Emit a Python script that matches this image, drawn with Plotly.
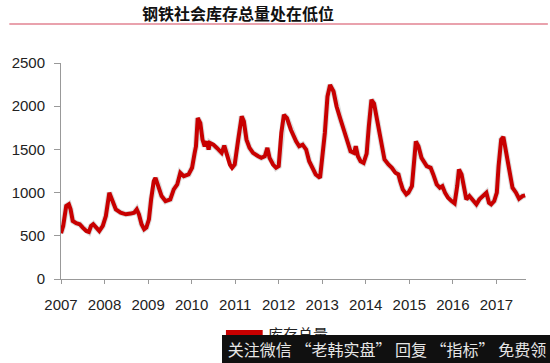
import plotly.graph_objects as go

title_text = "钢铁社会库存总量处在低位"
series_name = "库存总量"
watermark_text = "关注微信 “老韩实盘” 回复 “指标” 免费领"

year_ticks = list(range(2007, 2018))
year_labels = [str(y) for y in year_ticks]
y_ticks = [0, 500, 1000, 1500, 2000, 2500]

years = [
    2007.00, 2007.05, 2007.12, 2007.18, 2007.22, 2007.27, 2007.35, 2007.43, 2007.50, 2007.58, 2007.64, 2007.69, 2007.74, 2007.80, 2007.88, 2007.96,
    2008.03, 2008.11, 2008.18, 2008.26, 2008.37, 2008.49, 2008.60, 2008.68, 2008.74, 2008.79, 2008.85, 2008.91, 2008.96,
    2009.02, 2009.07, 2009.13, 2009.17, 2009.23, 2009.31, 2009.40, 2009.51, 2009.59, 2009.67, 2009.74, 2009.82, 2009.93,
    2010.01, 2010.07, 2010.10, 2010.14, 2010.20, 2010.25, 2010.30, 2010.35, 2010.39, 2010.42, 2010.50, 2010.58, 2010.65, 2010.69, 2010.75, 2010.80, 2010.88, 2010.93, 2010.99,
    2011.07, 2011.15, 2011.20, 2011.26, 2011.33, 2011.41, 2011.53, 2011.60, 2011.68, 2011.74, 2011.79, 2011.87, 2011.94,
    2012.00, 2012.06, 2012.12, 2012.19, 2012.28, 2012.40, 2012.47, 2012.55, 2012.63, 2012.70, 2012.78, 2012.85, 2012.95,
    2013.01, 2013.06, 2013.12, 2013.18, 2013.26, 2013.33, 2013.41, 2013.50, 2013.58, 2013.65, 2013.73, 2013.77, 2013.82, 2013.88, 2013.95,
    2014.02, 2014.07, 2014.13, 2014.19, 2014.26, 2014.32, 2014.37, 2014.43, 2014.52, 2014.60, 2014.68, 2014.75, 2014.79, 2014.85, 2014.93, 2014.98,
    2015.06, 2015.11, 2015.15, 2015.21, 2015.28, 2015.40, 2015.49, 2015.55, 2015.63, 2015.70, 2015.76, 2015.82, 2015.89, 2015.97,
    2016.04, 2016.10, 2016.14, 2016.20, 2016.25, 2016.31, 2016.38, 2016.46, 2016.54, 2016.61, 2016.69, 2016.77, 2016.83, 2016.88, 2016.95,
    2017.01, 2017.05, 2017.11, 2017.16, 2017.22, 2017.30, 2017.37, 2017.45, 2017.52, 2017.60, 2017.66,
]

inventory = [
    530, 614, 845, 864, 806, 672, 645, 634, 595, 556, 545, 614, 634, 595, 556, 614,
    729, 999, 902, 806, 768, 749, 757, 768, 806, 749, 634, 576, 595,
    691, 922, 1133, 1171, 1094, 960, 902, 922, 1037, 1094, 1229, 1190, 1210,
    1287, 1460, 1536, 1863, 1805, 1613, 1536, 1593, 1498, 1575, 1555, 1517, 1478, 1460, 1544, 1460, 1325, 1287, 1325,
    1613, 1882, 1824, 1613, 1517, 1460, 1421, 1402, 1421, 1517, 1402, 1325, 1287,
    1306, 1690, 1901, 1863, 1728, 1593, 1536, 1555, 1498, 1363, 1287, 1210, 1171,
    1421, 1690, 2112, 2247, 2170, 1997, 1863, 1728, 1613, 1478, 1460, 1536, 1421, 1363, 1344,
    1450, 1767, 2074, 2030, 1843, 1651, 1498, 1383, 1325, 1287, 1229, 1210, 1133, 1037, 979, 999,
    1075, 1344, 1593, 1536, 1402, 1306, 1287, 1210, 1094, 1056, 1075, 999, 941, 902,
    876, 1075, 1267, 1210, 1075, 922, 960, 902, 864, 922, 960, 999, 883, 864, 902,
    999, 1306, 1613, 1644, 1478, 1306, 1056, 999, 929, 960, 968,
]

RED = "#c80000"
NUM_FONT = "Liberation Sans, Arial, sans-serif"
CJK_FONT = "Noto Sans CJK SC, sans-serif"

fig = go.Figure()
# soft shadow under the line
fig.add_trace(go.Scatter(
    x=years, y=inventory, mode="lines",
    line=dict(color="rgba(60,60,60,0.18)", width=6),
    hoverinfo="skip", showlegend=False,
))
fig.add_trace(go.Scatter(
    x=years, y=inventory, mode="lines", name=series_name,
    line=dict(color=RED, width=4), showlegend=False,
))

fig.update_layout(
    width=550, height=363,
    margin=dict(l=58, r=24, t=63, b=84),
    paper_bgcolor="white", plot_bgcolor="white",
    showlegend=False,
    xaxis=dict(
        range=[2007, 2017.68], tickmode="array", tickvals=year_ticks, ticktext=year_labels,
        showgrid=False, zeroline=False, showline=True, linecolor="#999999", linewidth=1,
        ticks="outside", ticklen=4, tickcolor="#999999",
        tickfont=dict(family=NUM_FONT, size=15, color="#222222"),
        ticklabelstandoff=8,
    ),
    yaxis=dict(
        range=[0, 2500], tickmode="array", tickvals=y_ticks,
        showgrid=False, zeroline=False, showline=True, linecolor="#999999", linewidth=1,
        ticks="outside", ticklen=6, tickcolor="#999999",
        tickfont=dict(family=NUM_FONT, size=15, color="#222222"),
        ticklabelstandoff=6,
    ),
)

# header rule
fig.add_shape(type="line", xref="paper", yref="paper",
              x0=(6 - 58) / 468, x1=(548 - 58) / 468,
              y0=(363 - 84 - 24) / 216, y1=(363 - 84 - 24) / 216,
              line=dict(color="#e9a2ad", width=2))

# legend swatch (manual)
fig.add_shape(type="rect", xref="paper", yref="paper",
              x0=(224 - 58) / 468, x1=(261 - 58) / 468,
              y0=(279 - 342) / 216, y1=(279 - 330) / 216,
              fillcolor=RED, line=dict(width=0))

fig.add_annotation(text="<b>" + title_text + "</b>", xref="paper", yref="paper",
                   x=(236 - 58) / 468, y=(279 - 13) / 216, xanchor="center", yanchor="middle",
                   showarrow=False, font=dict(family=CJK_FONT, size=16, color="#111111"))

fig.add_annotation(text=series_name, xref="paper", yref="paper",
                   x=(264 - 58) / 468, y=(279 - 333) / 216, xanchor="left", yanchor="middle",
                   showarrow=False, font=dict(family=CJK_FONT, size=15, color="#222222"))

# watermark band
fig.add_annotation(text=watermark_text, xref="paper", yref="paper",
                   x=(220 - 58) / 468, y=(279 - 363) / 216, xanchor="left", yanchor="bottom",
                   showarrow=False, width=330, height=28, align="center", valign="middle",
                   bgcolor="#101010", borderpad=0, borderwidth=0,
                   font=dict(family=CJK_FONT, size=16, color="#e6e6e6"))

fig.write_html("out.html", config={"displayModeBar": False},
               post_script="document.body.style.margin='0';")
